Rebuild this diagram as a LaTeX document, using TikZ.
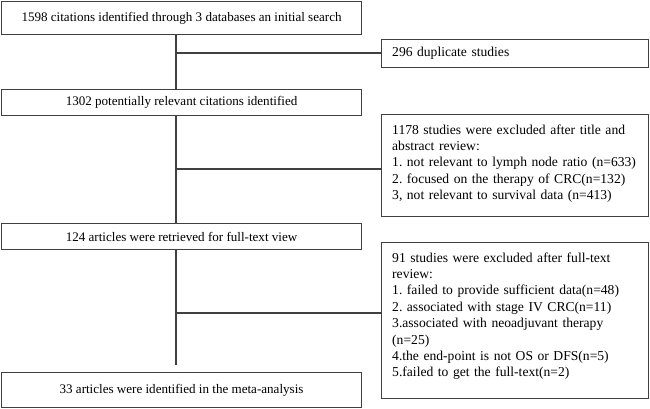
\documentclass[tikz,border=0pt]{standalone}
\usepackage{fontspec}
\setmainfont{Liberation Serif}
\frenchspacing
\begin{document}
\begin{tikzpicture}[x=0.75pt,y=-0.75pt,
  box/.style={draw=black!75, line width=0.8pt, anchor=north west, inner sep=0pt},
  mainbox/.style={box, minimum width=270pt, align=center, font=\fontsize{9.8}{12}\selectfont},
  sidebox/.style={box, inner xsep=4pt, inner ysep=7.5pt, text width=192.25pt, align=left,
    font=\fontsize{10.2}{12.3}\selectfont},
  conn/.style={draw=black!75, line width=0.8pt}]
\useasboundingbox (0,0) rectangle (650,408);
% main column
\node[mainbox, minimum height=24.75pt] (b1) at (1,1) {1598 citations identified through 3 databases an initial search};
\node[mainbox, minimum height=19.5pt] (b2) at (1,89) {1302 potentially relevant citations identified};
\node[mainbox, minimum height=19.5pt] (b3) at (1,223) {124 articles were retrieved for full-text view};
\node[mainbox, minimum height=26.25pt] (b4) at (1,372) {33 articles were identified in the meta-analysis};
% side boxes
\node[box, inner xsep=8pt, text width=184.25pt, align=left, minimum height=21pt,
  font=\fontsize{10.2}{12.3}\selectfont] (s1) at (381,39) {296 duplicate studies};
\node[sidebox] (s2) at (381,114) {\hspace*{4pt}\parbox[c][61.5pt][t]{188pt}{\raggedright 1178 studies were excluded after title and\\ abstract review:\\
1. not relevant to lymph node ratio (n=633)\\
2. focused on the therapy of CRC(n=132)\\
3, not relevant to survival data (n=413)}};
\node[sidebox] (s3) at (381,242) {\hspace*{4pt}\parbox[c][102pt][t]{188pt}{\raggedright 91 studies were excluded after full-text\\ review:\\
1. failed to provide sufficient data(n=48)\\
2. associated with stage IV CRC(n=11)\\
3.associated with neoadjuvant therapy\\ (n=25)\\
4.the end-point is not OS or DFS(n=5)\\
5.failed to get the full-text(n=2)}};
% junction coordinates
\coordinate (vx) at (176,0);
\coordinate (j1) at (176,53);
\coordinate (j2) at (176,169);
\coordinate (j3) at (176,313);
\coordinate (e3) at (176,365);
% connectors
\draw[conn] (vx |- b1.south) -- (vx |- b2.north);
\draw[conn] (vx |- b2.south) -- (vx |- b3.north);
\draw[conn] (vx |- b3.south) -- (e3);
\draw[conn] (j1) -- (j1 -| s1.west);
\draw[conn] (j2) -- (j2 -| s2.west);
\draw[conn] (j3) -- (j3 -| s3.west);
\end{tikzpicture}
\end{document}
